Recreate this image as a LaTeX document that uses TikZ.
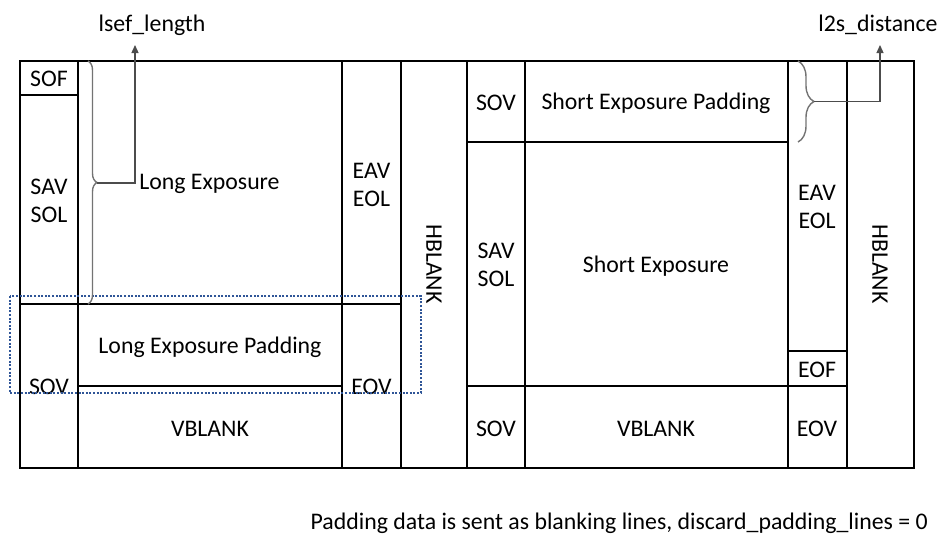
\documentclass[tikz,border=0pt]{standalone}
\usepackage{fontspec}
\setmainfont{Carlito}
\usetikzlibrary{decorations.pathreplacing,arrows.meta}
\newcommand\lbfont{\fontsize{23.8}{28}\selectfont}
\definecolor{dotblue}{HTML}{2F5597}
\begin{document}
\begin{tikzpicture}[x=1pt,y=-1pt,
  box/.style={draw=black, line width=1.3pt},
  lbl/.style={font=\lbfont, align=center, inner sep=0pt, text=black},
  brc/.style={draw=black!55, line width=1.4pt, decorate, decoration={brace, amplitude=#1}},
  conn/.style={draw=black!70, line width=1.3pt, -{Triangle[length=8pt,width=7pt]}},
  dotbox/.style={draw=dotblue, line width=2pt, dash pattern=on 2pt off 1.6pt}]
\useasboundingbox (0,0) rectangle (943,538);
% ---------- left frame ----------
\draw[box] (20,61) rectangle (78,95);
\draw[box] (20,95) rectangle (78,304);
\draw[box] (78,61) rectangle (342,304);
\draw[box] (342,61) rectangle (401,304);
\draw[box] (401,61) rectangle (467,468);
\draw[box] (20,304) rectangle (78,468);
\draw[box] (78,304) rectangle (342,386);
\draw[box] (78,386) rectangle (342,468);
\draw[box] (342,304) rectangle (401,468);
\node[lbl] (sof) at (49,79) {SOF};
\node[lbl] (savl) at (49,201) {SAV\\SOL};
\node[lbl] (le) at (209.5,184) {Long Exposure};
\node[lbl] (eavl) at (371.5,185) {EAV\\EOL};
\node[lbl, rotate=-90] (hbl) at (434,264) {HBLANK};
\node[lbl] (sovl) at (49,387) {SOV};
\node[lbl] (lep) at (210,347) {Long Exposure Padding};
\node[lbl] (vbl) at (210,429) {VBLANK};
\node[lbl] (eovl) at (371.5,387) {EOV};
% ---------- right frame ----------
\draw[box] (467,61) rectangle (525,142);
\draw[box] (525,61) rectangle (788,142);
\draw[box] (467,142) rectangle (525,386);
\draw[box] (525,142) rectangle (788,386);
\draw[box] (788,61) rectangle (847,351);
\draw[box] (788,351) rectangle (847,386);
\draw[box] (847,61) rectangle (914,468);
\draw[box] (467,386) rectangle (525,468);
\draw[box] (525,386) rectangle (788,468);
\draw[box] (788,386) rectangle (847,468);
\node[lbl] (sovr) at (496,103) {SOV};
\node[lbl] (sep) at (656,103) {Short Exposure Padding};
\node[lbl] (savr) at (496,265) {SAV\\SOL};
\node[lbl] (se) at (656,266) {Short Exposure};
\node[lbl] (eavr) at (817,207) {EAV\\EOL};
\node[lbl] (eof) at (817,370) {EOF};
\node[lbl, rotate=-90] (hbr) at (880,264) {HBLANK};
\node[lbl] (sovr2) at (496,429) {SOV};
\node[lbl] (vbr) at (656,429) {VBLANK};
\node[lbl] (eovr) at (817,429) {EOV};
% ---------- dotted highlight ----------
\draw[dotbox] (10,296) rectangle (421,393);
% ---------- braces and labels ----------
\node[lbl] (lsef) at (152,25) {lsef\_length};
\node[lbl] (l2s) at (878,25) {l2s\_distance};
\draw[brc=9pt] (88,61) -- (88,304);
\draw[brc=16pt] (798,61) -- (798,142);
\coordinate (lbt) at (97,183);
\coordinate (lbc) at (135,183);
\coordinate (lba) at (135,45);
\coordinate (rbt) at (814,101.5);
\coordinate (rbc) at (880,101.5);
\coordinate (rba) at (880,45);
\draw[conn] (lbt) -- (lbc) -- (lba);
\draw[conn] (rbt) -- (rbc) -- (rba);
% ---------- note ----------
\node[lbl, anchor=east] (note) at (928,523) {Padding data is sent as blanking lines, discard\_padding\_lines = 0};
\end{tikzpicture}
\end{document}
